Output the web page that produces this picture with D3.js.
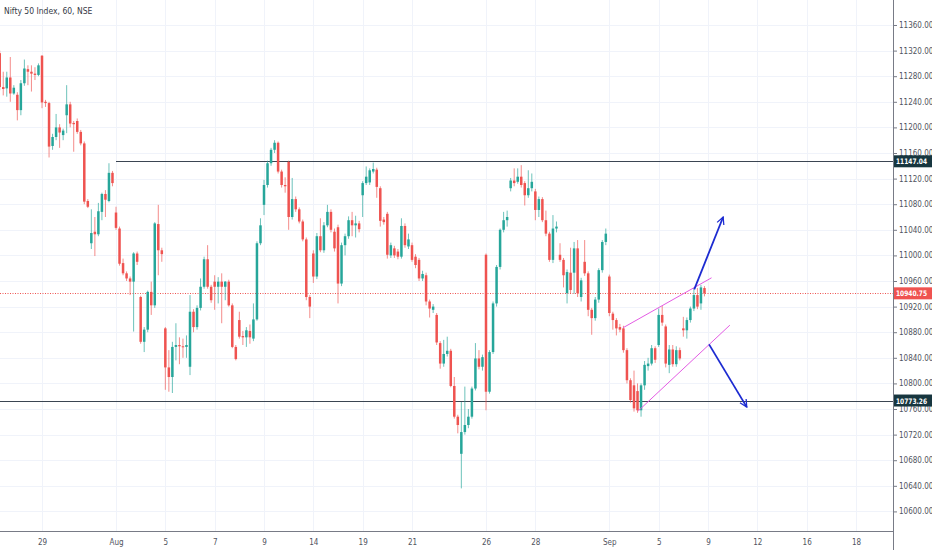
<!DOCTYPE html>
<html>
<head>
<meta charset="utf-8">
<script src="https://cdn.jsdelivr.net/npm/d3@7"></script>
<style>
  body { margin: 0; background: #fff; }
  svg { display: block; }
</style>
</head>
<body>
<svg width="932" height="550"></svg>
<script>
/* Nifty 50, hourly bars. Bar index 0 = 29 Jul 09:15, 7 bars per session */
var firstBar = -12;
var barsPerSession = 7;

var opens = [
  11316,11263,11261,11278,11253,11251,11227,11269,11291,11287,11284,11282,
  11312,11240,11238,11171,11185,11200,11188,11219,11236,11207,11210,11193,11175,11085,
  11019,11037,11033,11068,11096,11085,11129,
  11067,11042,10988,10972,10964,10959,11003,
  10935,10865,10884,10943,10922,11049,11008,
  10886,10825,10810,10857,10860,10858,10857,
  10826,10912,10888,10918,10951,10994,10951,
  10959,10951,10959,10951,10959,10922,10857,
  10899,10874,10872,10882,10870,10900,11019,
  11079,11110,11144,11165,11176,11131,11110,
  11146,11060,11088,11072,11053,11025,10935,
  11003,10967,11030,11008,11047,11068,11037,
  11044,10956,11016,11030,11055,11047,11050,
  11094,11113,11114,11131,11134,11105,11056,
  11065,11000,11011,11006,10998,11046,11014,
  11016,10998,10993,10964,10969,10928,10915,
  10907,10863,10831,10846,10851,10796,10748,
  10690,10724,10735,10748,10792,10839,10826,
  11001,10787,10849,10925,10982,11040,11055,
  11105,11117,11115,11123,11113,11094,11105,
  11100,11071,11088,11055,11034,10993,11042,
  11001,10993,10941,10973,10973,11011,10935,
  10990,10972,10915,10902,10931,10977,11021,
  10967,10909,10899,10888,10886,10852,10805,
  10797,10788,10758,10797,10827,10831,10855,
  10860,10907,10889,10829,10853,10830,10852,
  10886,10883,10899,10917,10938,10925,10949
];
var highs = [
  11320,11287,11287,11310,11266,11255,11274,11306,11297,11297,11294,11300,
  11313,11243,11240,11190,11221,11205,11198,11266,11240,11210,11214,11196,11178,11088,
  11072,11060,11082,11098,11102,11144,11132,
  11076,11045,10995,10975,10967,11005,11006,
  10937,10888,10945,10959,11052,11079,11012,
  10888,10852,10865,10894,10872,10870,10875,
  10938,10916,10922,10964,10998,11016,10954,
  10969,10966,10972,10960,10962,10925,10860,
  10912,10882,10888,10892,10925,11022,11058,
  11118,11148,11168,11180,11178,11134,11122,
  11148,11121,11092,11075,11056,11028,10938,
  11008,11035,11058,11052,11079,11072,11042,
  11048,11020,11034,11061,11068,11062,11054,
  11116,11139,11136,11145,11137,11108,11060,
  11068,11020,11015,11010,11058,11050,11034,
  11020,11002,10996,10976,10973,10931,10924,
  10910,10866,10868,10873,10854,10810,10751,
  10771,10795,10760,10795,10863,10852,10845,
  11003,10852,10928,10985,11042,11068,11070,
  11121,11136,11136,11141,11116,11133,11128,
  11104,11092,11091,11070,11037,11063,11053,
  11019,10996,10978,11012,11021,11024,10965,
  11024,10975,10918,10935,10980,11024,11042,
  10970,10912,10902,10893,10890,10855,10808,
  10820,10800,10800,10835,10840,10860,10858,
  10917,10921,10892,10860,10860,10858,10856,
  10904,10903,10920,10949,10949,10954,10952
];
var lows = [
  11258,11250,11248,11240,11251,11211,11219,11265,11266,11256,11274,11280,
  11230,11232,11153,11165,11180,11168,11180,11191,11200,11162,11190,11172,11080,11074,
  11010,10999,11030,11055,11060,11083,11108,
  11040,10984,10969,10960,10938,10881,10985,
  10862,10849,10880,10907,10918,10969,10990,
  10790,10787,10785,10836,10830,10840,10840,
  10813,10880,10884,10914,10948,10948,10926,
  10915,10925,10894,10930,10920,10855,10836,
  10870,10860,10857,10862,10866,10898,11016,
  11063,11106,11140,11160,11128,11106,11098,
  11040,11056,11068,11050,11022,10930,10902,
  10957,10963,11005,11004,11044,11036,11006,
  10925,10952,11000,11026,11030,11028,11036,
  11060,11110,11110,11128,11090,11045,11048,
  10995,10996,10996,10994,10995,11012,11010,
  10990,10980,10960,10960,10922,10903,10910,
  10860,10823,10826,10842,10794,10745,10722,
  10636,10720,10730,10745,10789,10822,10820,
  10758,10784,10846,10920,10978,11036,11045,
  11100,11108,11112,11106,11078,11090,11100,
  11055,11060,11052,11030,10990,10988,11036,
  10990,10950,10925,10940,10940,10935,10928,
  10968,10905,10876,10898,10926,10973,11016,
  10905,10884,10875,10880,10848,10800,10770,
  10756,10754,10748,10790,10820,10828,10832,
  10857,10890,10825,10816,10826,10826,10836,
  10873,10870,10895,10913,10916,10915,10936
];
var closes = [
  11263,11260,11278,11253,11262,11227,11269,11292,11287,11284,11282,11297,
  11239,11238,11170,11185,11200,11192,11195,11236,11206,11205,11193,11175,11084,11076,
  11035,11033,11069,11096,11087,11129,11113,
  11043,10987,10972,10964,10959,11003,10990,
  10865,10884,10943,10922,11050,11008,11002,
  10825,10810,10857,10860,10858,10857,10860,
  10912,10888,10918,10951,10994,10951,10930,
  10951,10959,10951,10959,10922,10857,10838,
  10873,10872,10883,10872,10900,11019,11047,
  11110,11144,11165,11176,11131,11110,11108,
  11060,11088,11072,11053,11025,10935,10920,
  10967,11030,11008,11047,11068,11040,11011,
  10956,11016,11030,11055,11047,11050,11041,
  11113,11123,11133,11135,11107,11054,11052,
  11001,11016,11000,10998,11046,11016,11025,
  10993,10985,10964,10971,10928,10917,10920,
  10864,10831,10846,10851,10796,10748,10735,
  10724,10735,10748,10792,10839,10826,10841,
  10787,10849,10925,10982,11040,11055,11060,
  11117,11113,11123,11110,11094,11105,11115,
  11071,11088,11055,11034,10993,11042,11045,
  10993,10969,10974,10946,11011,10941,10961,
  10972,10915,10902,10931,10977,11021,11034,
  10910,10899,10886,10884,10852,10805,10774,
  10761,10758,10797,10829,10831,10855,10837,
  10907,10895,10831,10853,10830,10852,10839,
  10883,10899,10917,10938,10920,10950,10941
];

var priceTicks = [10600,10640,10680,10720,10760,10800,10840,10880,10920,10960,
                  11000,11040,11080,11120,11160,11200,11240,11280,11320,11360];
var dateLabels = ["29","Aug","5","7","9","14","19","21","26","28","Sep","5","9","12","16","18"];
var dateSessions = [0,3,5,7,9,11,13,15,18,20,23,25,27,29,31,33];

var levelPrices = [11147.04, 10773.26];
var levelStartBars = [21, -12];
var lastPrice = 10940.75;

// drawings: [bar, price] end points
var channelLines = [
  [[164.9, 10887], [190.0, 10965]],
  [[169.2, 10757], [195.2, 10891]]
];
var arrowLines = [
  [[185.1, 10947], [193.3, 11060]],
  [[189.3, 10861], [200.0, 10763]]
];

/**************************  LAYOUT **************************/
var W = 932, H = 550;
var plotR = 893, plotB = 531;
var fontFam = "'Liberation Sans Narrow', 'DejaVu Sans Condensed', 'Liberation Sans', sans-serif";
var green = "#26a69a", red = "#ef5350";

var x = d3.scaleLinear().domain([-11.92, 241.5]).range([0, plotR]);
var y = d3.scaleLinear().domain([10569.4, 11399.06]).range([plotB, 0]);

var svg = d3.select("svg");
var bars = d3.range(opens.length).map(function(k) {
  return { i: firstBar + k, o: opens[k], h: highs[k], l: lows[k], c: closes[k] };
});

// grid
svg.append("g").selectAll("line").data(priceTicks).enter().append("line")
  .attr("x1", 0).attr("x2", plotR)
  .attr("y1", function(d) { return Math.round(y(d)) + 0.5; })
  .attr("y2", function(d) { return Math.round(y(d)) + 0.5; })
  .attr("stroke", "#f0f3fa");
svg.append("g").selectAll("line").data(dateSessions).enter().append("line")
  .attr("y1", 0).attr("y2", plotB)
  .attr("x1", function(d) { return Math.round(x(d * barsPerSession)) + 0.5; })
  .attr("x2", function(d) { return Math.round(x(d * barsPerSession)) + 0.5; })
  .attr("stroke", "#f0f3fa");

// last price dotted line
svg.append("line")
  .attr("x1", 0).attr("x2", plotR)
  .attr("y1", Math.round(y(lastPrice)) + 0.5).attr("y2", Math.round(y(lastPrice)) + 0.5)
  .attr("stroke", red).attr("stroke-dasharray", "1,1.5");

// horizontal levels
levelPrices.forEach(function(p, k) {
  svg.append("line")
    .attr("x1", Math.max(0, x(levelStartBars[k]))).attr("x2", plotR)
    .attr("y1", Math.round(y(p)) + 0.5).attr("y2", Math.round(y(p)) + 0.5)
    .attr("stroke", "#3b4552").attr("stroke-width", 1);
});

// candles
var bw = 2.5;
var cg = svg.append("g").attr("class", "candles");
var cand = cg.selectAll("g").data(bars).enter().append("g");
cand.append("line")
  .attr("x1", function(d) { return x(d.i); })
  .attr("x2", function(d) { return x(d.i); })
  .attr("y1", function(d) { return y(d.h); })
  .attr("y2", function(d) { return y(d.l); })
  .attr("stroke", function(d) { return d.c >= d.o ? green : red; })
  .attr("stroke-opacity", 0.75)
  .attr("stroke-width", 0.9);
cand.append("rect")
  .attr("x", function(d) { return x(d.i) - bw / 2; })
  .attr("width", bw)
  .attr("y", function(d) { return y(Math.max(d.o, d.c)); })
  .attr("height", function(d) { return Math.max(1, Math.abs(y(d.o) - y(d.c))); })
  .attr("fill", function(d) { return d.c >= d.o ? green : red; });

// channel lines
var line = d3.line()
  .x(function(d) { return x(d[0]); })
  .y(function(d) { return y(d[1]); });
channelLines.forEach(function(seg) {
  svg.append("path").attr("d", line(seg))
    .attr("stroke", "#e45be4").attr("stroke-width", 1).attr("fill", "none");
});

// arrows
svg.append("defs").append("marker")
  .attr("id", "head")
  .attr("viewBox", "0 0 10 10").attr("refX", 9).attr("refY", 5)
  .attr("markerWidth", 5).attr("markerHeight", 5)
  .attr("markerUnits", "strokeWidth")
  .attr("orient", "auto")
  .append("path").attr("d", "M1,1 L9,5 L1,9")
  .attr("fill", "none").attr("stroke", "#1c2bd1").attr("stroke-width", 1.4);
arrowLines.forEach(function(seg) {
  svg.append("path").attr("d", line(seg))
    .attr("stroke", "#1c2bd1").attr("stroke-width", 1.8).attr("fill", "none")
    .attr("marker-end", "url(#head)");
});

// axes
svg.append("rect").attr("x", plotR).attr("y", 0).attr("width", W - plotR).attr("height", H).attr("fill", "#fff");
svg.append("rect").attr("x", 0).attr("y", plotB).attr("width", plotR).attr("height", H - plotB).attr("fill", "#fff");

var yAxis = svg.append("g")
  .attr("transform", "translate(" + plotR + ",0)")
  .call(d3.axisRight(y).tickValues(priceTicks).tickFormat(d3.format(".2f")).tickSize(4).tickPadding(2));
var xAxis = svg.append("g")
  .attr("transform", "translate(0," + plotB + ")")
  .call(d3.axisBottom(x)
    .tickValues(dateSessions.map(function(s) { return s * barsPerSession; }))
    .tickFormat(function(d, k) { return dateLabels[k]; })
    .tickSize(0).tickPadding(8));
[yAxis, xAxis].forEach(function(a) {
  a.selectAll("text").attr("font-family", fontFam).attr("font-size", 8).attr("fill", "#50535e");
  a.selectAll(".tick line").attr("stroke", "#787b86");
  a.select(".domain").remove();
});
svg.append("line").attr("x1", plotR + 0.5).attr("x2", plotR + 0.5).attr("y1", 0).attr("y2", H)
  .attr("stroke", "#787b86");
svg.append("line").attr("x1", 0).attr("x2", plotR).attr("y1", plotB + 0.5).attr("y2", plotB + 0.5)
  .attr("stroke", "#787b86");

// price labels on the axis
function priceTag(p, bg) {
  var cy = y(p);
  svg.append("rect").attr("x", plotR + 1).attr("y", cy - 6).attr("width", W - plotR - 1).attr("height", 12)
    .attr("fill", bg);
  svg.append("text").attr("x", plotR + 3).attr("y", cy + 3)
    .attr("font-family", fontFam).attr("font-size", 7.5).attr("font-weight", 600)
    .attr("textLength", 31).attr("lengthAdjust", "spacingAndGlyphs")
    .attr("fill", "#fff").text(d3.format(".2f")(p));
}
levelPrices.forEach(function(p) { priceTag(p, "#17363f"); });
priceTag(lastPrice, red);

// title
svg.append("text").attr("x", 4).attr("y", 14)
  .attr("font-family", fontFam).attr("font-size", 8.5).attr("fill", "#363a45")
  .text("Nifty 50 Index, 60, NSE");
</script>
</body>
</html>
